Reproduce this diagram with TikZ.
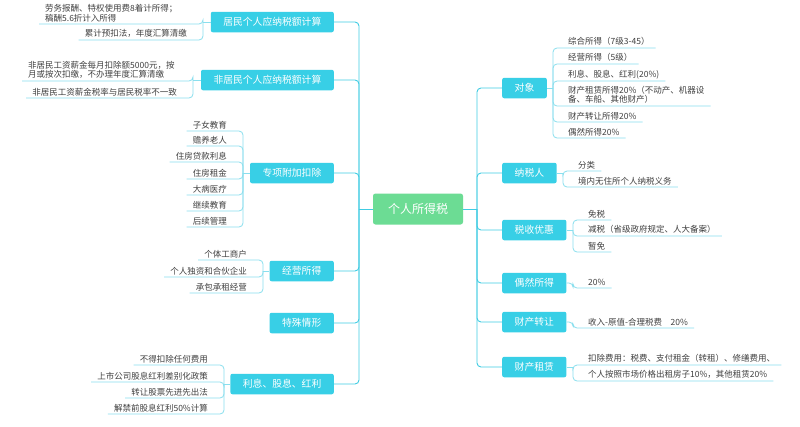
\documentclass[tikz,border=0pt]{standalone}
\usepackage{fontspec}
\newfontfamily\cjk{Noto Sans CJK SC}
\definecolor{mcyan}{HTML}{38CFE6}
\definecolor{mgreen}{HTML}{6CDC94}
\definecolor{tcyan}{HTML}{40CCE3}
\definecolor{lcyan}{HTML}{8ADFEE}
\definecolor{leafgray}{HTML}{404040}
\begin{document}
\begin{tikzpicture}[x=1pt,y=-1pt,
  main/.style={fill=mcyan, text=white, rounded corners=2pt, inner xsep=12.5pt, inner ysep=0pt, minimum height=20.5pt, font=\cjk\fontsize{9.8}{11}\selectfont},
  root/.style={fill=mgreen, text=white, rounded corners=2.5pt, inner xsep=15pt, inner ysep=0pt, minimum height=31pt, font=\cjk\fontsize{12}{14}\selectfont},
  leafL/.style={anchor=south east, inner xsep=6pt, inner ysep=2pt, text=leafgray, font=\cjk\fontsize{8.5}{9.2}\selectfont, align=left},
  leafR/.style={anchor=south west, inner xsep=6pt, inner ysep=2pt, text=leafgray, font=\cjk\fontsize{8.5}{9.2}\selectfont, align=left},
  trunk/.style={draw=tcyan, line width=0.9pt, rounded corners=4pt},
  twig/.style={draw=lcyan, line width=0.8pt, rounded corners=4pt},
]
\useasboundingbox[fill=white] (0,0) rectangle (800,426);

% root
\node[root] (R) at (418,209) {个人所得税};

% left main nodes
\node[main, anchor=east] (A) at (334,22) {居民个人应纳税额计算};
\node[main, anchor=east] (B) at (334,80) {非居民个人应纳税额计算};
\node[main, anchor=east] (C) at (334,173) {专项附加扣除};
\node[main, anchor=east] (D) at (334,271) {经营所得};
\node[main, anchor=east] (E) at (334,323) {特殊情形};
\node[main, anchor=east] (F) at (334,384) {利息、股息、红利};

% right main nodes
\node[main, anchor=west] (G) at (502,88) {对象};
\node[main, anchor=west] (H) at (502,173) {纳税人};
\node[main, anchor=west] (I) at (502,230) {税收优惠};
\node[main, anchor=west] (J) at (502,283) {偶然所得};
\node[main, anchor=west] (K) at (502,322) {财产转让};
\node[main, anchor=west] (L) at (502,367) {财产租赁};

% trunks
\coordinate (TL) at (359,209);
\coordinate (TR) at (477,209);
\draw[trunk] (R.west) -- (TL);
\draw[trunk] (R.east) -- (TR);
\foreach \n in {A,B,C,D,E,F} { \draw[trunk] (TL) |- (\n.east); }
\foreach \n in {G,H,I,J,K,L} { \draw[trunk] (TR) |- (\n.west); }

% ---- left leaves ----
% A
\node[leafL, anchor=south west] (A1) at (39,24) {劳务报酬、特权使用费8着计所得；\\稿酬5.6折计入所得};
\node[leafL] (A2) at (193,40) {累计预扣法，年度汇算清缴};
\coordinate (Ab) at (203,22);
\draw[twig] (A.west) -- (Ab);
\foreach \n in {A1,A2} { \draw[twig] (Ab) |- (\n.south west); }

% B
\node[leafL, anchor=south west] (B1) at (22,81) {非居民工资薪金每月扣除额5000元，按\\月或按次扣缴，不办理年度汇算清缴};
\node[leafL] (B2) at (183,98) {非居民工资薪金税率与居民税率不一致};
\coordinate (Bb) at (193,80);
\draw[twig] (B.west) -- (Bb);
\foreach \n in {B1,B2} { \draw[twig] (Bb) |- (\n.south west); }

% C
\node[leafL] (C1) at (233,131) {子女教育};
\node[leafL] (C2) at (233,146) {赡养老人};
\node[leafL] (C3) at (233,162) {住房贷款利息};
\node[leafL] (C4) at (233,179) {住房租金};
\node[leafL] (C5) at (233,195) {大病医疗};
\node[leafL] (C6) at (233,211) {继续教育};
\node[leafL] (C7) at (233,227) {后续管理};
\coordinate (Cb) at (243,173);
\draw[twig] (C.west) -- (Cb);
\foreach \n in {C1,C2,C3,C4,C5,C6,C7} { \draw[twig] (Cb) |- (\n.south west); }

% D
\node[leafL] (D1) at (253,260) {个体工商户};
\node[leafL] (D2) at (253,277) {个人独资和合伙企业};
\node[leafL] (D3) at (253,293) {承包承租经营};
\coordinate (Db) at (263,271);
\draw[twig] (D.west) -- (Db);
\foreach \n in {D1,D2,D3} { \draw[twig] (Db) |- (\n.south west); }

% F
\node[leafL] (F1) at (214,365) {不得扣除任何费用};
\node[leafL] (F2) at (214,382) {上市公司股息红利差别化政策};
\node[leafL] (F3) at (214,398) {转让股票先进先出法};
\node[leafL] (F4) at (214,414) {解禁前股息红利50\%计算};
\coordinate (Fb) at (224,384);
\draw[twig] (F.west) -- (Fb);
\foreach \n in {F1,F2,F3,F4} { \draw[twig] (Fb) |- (\n.south west); }

% ---- right leaves ----
% G
\node[leafR] (G1) at (562,48) {综合所得（7级3-45）};
\node[leafR] (G2) at (562,64) {经营所得（5级）};
\node[leafR] (G3) at (562,81) {利息、股息、红利(20\%)};
\node[leafR] (G4) at (562,106) {财产租赁所得20\%（不动产、机器设\\备、车船、其他财产）};
\node[leafR] (G5) at (562,122) {财产转让所得20\%};
\node[leafR] (G6) at (562,138) {偶然所得20\%};
\coordinate (Gb) at (553,88);
\draw[twig] (G.east) -- (Gb);
\foreach \n in {G1,G2,G3,G4,G5,G6} { \draw[twig] (Gb) |- (\n.south east); }

% H
\node[leafR] (H1) at (572,171) {分类};
\node[leafR] (H2) at (572,187) {境内无住所个人纳税义务};
\coordinate (Hb) at (563,173);
\draw[twig] (H.east) -- (Hb);
\foreach \n in {H1,H2} { \draw[twig] (Hb) |- (\n.south east); }

% I
\node[leafR] (I1) at (582,220) {免税};
\node[leafR] (I2) at (582,236) {减税（省级政府规定、人大备案）};
\node[leafR] (I3) at (582,252) {暂免};
\coordinate (Ib) at (573,230);
\draw[twig] (I.east) -- (Ib);
\foreach \n in {I1,I2,I3} { \draw[twig] (Ib) |- (\n.south east); }

% J
\node[leafR] (J1) at (582,288) {20\%};
\coordinate (Jb) at (573,283);
\draw[twig] (J.east) -- (Jb) |- (J1.south east);

% K
\node[leafR] (K1) at (582,328) {收入-原值-合理税费　20\%};
\coordinate (Kb) at (573,322);
\draw[twig] (K.east) -- (Kb) |- (K1.south east);

% L
\node[leafR] (L1) at (582,365) {扣除费用：税费、支付租金（转租）、修缮费用、};
\node[leafR] (L2) at (582,381) {个人按照市场价格出租房子10\%，其他租赁20\%};
\coordinate (Lb) at (573,367);
\draw[twig] (L.east) -- (Lb);
\foreach \n in {L1,L2} { \draw[twig] (Lb) |- (\n.south east); }
\end{tikzpicture}
\end{document}
